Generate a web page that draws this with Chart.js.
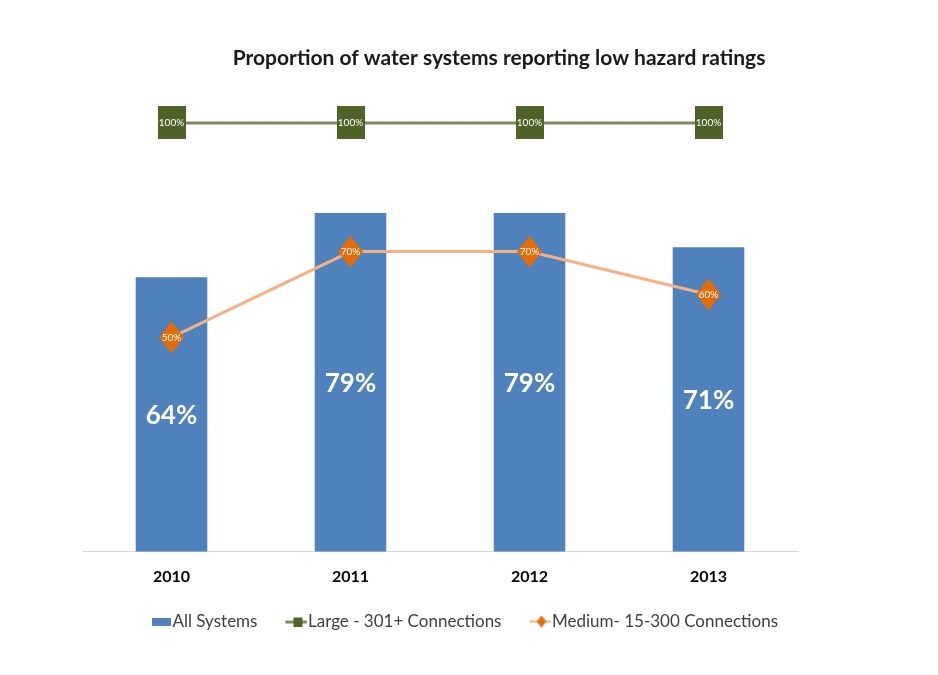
<!DOCTYPE html>
<html>
<head>
<meta charset="utf-8">
<script src="https://cdn.jsdelivr.net/npm/chart.js@4.4.1/dist/chart.umd.min.js"></script>
<style>
  html, body { margin: 0; padding: 0; background: #fff; }
  #wrap { width: 938px; height: 675px; }
</style>
</head>
<body>
<div id="wrap"><canvas id="chart" width="938" height="675"></canvas></div>
<script>
  // ---------- Data ----------
  const years = ["2010", "2011", "2012", "2013"];
  const allSystems = [64, 79, 79, 71];
  const largeSystems = [100, 100, 100, 100];
  const mediumSystems = [50, 70, 70, 60];

  const seriesNames = ["All Systems", "Large - 301+ Connections", "Medium- 15-300 Connections"];
  const chartTitle = "Proportion of water systems reporting low hazard ratings";

  const FONT = "Lato, 'Open Sans', sans-serif";
  const BLUE = "#4f81bd";
  const GREEN = "#4f6228";
  const GREEN_LINE = "#7f8b5f";
  const ORANGE = "#e46c0a";
  const ORANGE_LINE = "#f4b183";

  // ---------- Markers (canvas images used as point styles) ----------
  function diamond(g, cx, cy, w, h) {
    g.beginPath();
    g.moveTo(cx, cy - h / 2);
    g.lineTo(cx + w / 2, cy);
    g.lineTo(cx, cy + h / 2);
    g.lineTo(cx - w / 2, cy);
    g.closePath();
    g.fill();
  }

  function makeCanvas(w, h, paint) {
    const c = document.createElement("canvas");
    c.width = w;
    c.height = h;
    paint(c.getContext("2d"));
    return c;
  }

  const largeMarker = makeCanvas(28, 33, (g) => {
    g.fillStyle = GREEN;
    g.fillRect(0, 0, 28, 33);
  });
  const mediumMarker = makeCanvas(25, 32, (g) => {
    g.fillStyle = ORANGE;
    diamond(g, 12.5, 16, 25, 32);
  });

  // legend swatches: drawn centred on box middle, so the visible part sits to the right
  const legendBar = makeCanvas(26, 8, (g) => {
    g.fillStyle = BLUE;
    g.fillRect(7, 0, 19, 8);
  });
  const legendLarge = makeCanvas(28, 10, (g) => {
    g.fillStyle = GREEN_LINE;
    g.fillRect(6, 4, 22, 3);
    g.fillStyle = GREEN;
    g.fillRect(14, 1, 9, 9);
  });
  const legendMedium = makeCanvas(28, 12, (g) => {
    g.fillStyle = ORANGE_LINE;
    g.fillRect(6, 5, 22, 2);
    g.fillStyle = ORANGE;
    diamond(g, 18, 6, 10, 12);
  });
  const legendSwatches = [legendBar, legendLarge, legendMedium];

  // ---------- Plugins ----------
  const titlePlugin = {
    id: "titlePlugin",
    afterDraw(chart) {
      const ctx = chart.ctx;
      ctx.save();
      ctx.font = "bold 21px " + FONT;
      ctx.fillStyle = "#1a1a1a";
      ctx.textAlign = "center";
      ctx.textBaseline = "middle";
      ctx.fillText(chartTitle, 499, 58);
      ctx.restore();
    }
  };

  const valueLabels = {
    id: "valueLabels",
    afterDatasetsDraw(chart) {
      const ctx = chart.ctx;
      chart.data.datasets.forEach((ds, i) => {
        const meta = chart.getDatasetMeta(i);
        meta.data.forEach((el, j) => {
          const txt = ds.data[j] + "%";
          ctx.save();
          ctx.fillStyle = "#ffffff";
          ctx.textAlign = "center";
          ctx.textBaseline = "middle";
          if (meta.type === "bar") {
            ctx.font = "bold 26px " + FONT;
            ctx.fillText(txt, el.x, (el.y + el.base) / 2 + 1);
          } else {
            ctx.font = "10px " + FONT;
            ctx.fillText(txt, el.x, el.y);
          }
          ctx.restore();
        });
      });
    }
  };

  // ---------- Chart ----------
  const ctx = document.getElementById("chart").getContext("2d");

  new Chart(ctx, {
    type: "bar",
    data: {
      labels: years,
      datasets: [
        {
          type: "bar",
          label: seriesNames[0],
          data: allSystems,
          backgroundColor: BLUE,
          barPercentage: 0.4,
          categoryPercentage: 1,
          order: 3
        },
        {
          type: "line",
          label: seriesNames[1],
          data: largeSystems,
          borderColor: GREEN_LINE,
          backgroundColor: GREEN,
          borderWidth: 3,
          pointStyle: largeMarker,
          pointRadius: 14,
          order: 1
        },
        {
          type: "line",
          label: seriesNames[2],
          data: mediumSystems,
          borderColor: ORANGE_LINE,
          backgroundColor: ORANGE,
          borderWidth: 3,
          pointStyle: mediumMarker,
          pointRadius: 14,
          order: 2
        }
      ]
    },
    options: {
      responsive: false,
      animation: false,
      events: [],
      layout: { padding: { top: 80, bottom: 35, left: 0, right: 8 } },
      plugins: {
        title: { display: false },
        tooltip: { enabled: false },
        legend: {
          position: "bottom",
          labels: {
            usePointStyle: true,
            pointStyleWidth: 12,
            boxHeight: 10,
            padding: 30,
            color: "#404040",
            font: { family: FONT, size: 17 },
            sort: (a, b) => a.datasetIndex - b.datasetIndex,
            generateLabels: (chart) => {
              const items = Chart.defaults.plugins.legend.labels.generateLabels(chart);
              items.forEach((it) => {
                it.pointStyle = legendSwatches[it.datasetIndex];
                it.lineWidth = 0;
              });
              return items;
            }
          }
        }
      },
      scales: {
        x: {
          grid: { display: false, drawTicks: false },
          border: { display: true, color: "#d9d9d9", width: 1 },
          ticks: {
            padding: 15,
            color: "#000000",
            font: { family: FONT, size: 16, weight: "bold" }
          },
          afterFit: (s) => { s.height -= 18; }
        },
        y: {
          min: 0,
          max: 110,
          grid: { display: false, drawTicks: false },
          border: { display: false },
          ticks: { display: false },
          afterFit: (s) => { s.width = 82; }
        },
        yRight: {
          position: "right",
          grid: { display: false, drawTicks: false },
          border: { display: false },
          ticks: { display: false },
          afterFit: (s) => { s.width = 132; }
        }
      }
    },
    plugins: [valueLabels, titlePlugin]
  });
</script>
</body>
</html>
